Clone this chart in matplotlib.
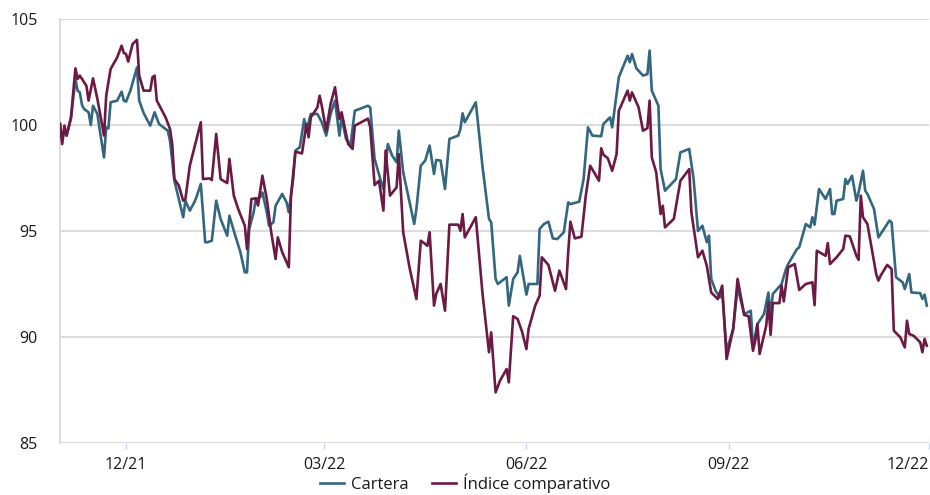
import matplotlib
matplotlib.use("Agg")
import matplotlib.pyplot as plt
import pandas as pd

plt.rcParams['font.family'] = ['Open Sans', 'DejaVu Sans']

# ---------------- data ----------------
c_dates = [
    "2021-11-01", "2021-11-02", "2021-11-03", "2021-11-04", "2021-11-06", "2021-11-08", "2021-11-09",
    "2021-11-10", "2021-11-11", "2021-11-12", "2021-11-14", "2021-11-15", "2021-11-16", "2021-11-18",
    "2021-11-19", "2021-11-21", "2021-11-22", "2021-11-23", "2021-11-24", "2021-11-27", "2021-11-29",
    "2021-11-30", "2021-12-01", "2021-12-03", "2021-12-06", "2021-12-07", "2021-12-09", "2021-12-12",
    "2021-12-14", "2021-12-16", "2021-12-19", "2021-12-20", "2021-12-21", "2021-12-23", "2021-12-27",
    "2021-12-28", "2021-12-30", "2022-01-01", "2022-01-02", "2022-01-04", "2022-01-06", "2022-01-07",
    "2022-01-09", "2022-01-11", "2022-01-13", "2022-01-16", "2022-01-17", "2022-01-19", "2022-01-22",
    "2022-01-24", "2022-01-25", "2022-01-26", "2022-01-28", "2022-01-29", "2022-01-31", "2022-02-01",
    "2022-02-03", "2022-02-04", "2022-02-06", "2022-02-07", "2022-02-10", "2022-02-12", "2022-02-13",
    "2022-02-15", "2022-02-16", "2022-02-18", "2022-02-20", "2022-02-21", "2022-02-23", "2022-02-26",
    "2022-02-28", "2022-03-02", "2022-03-04", "2022-03-06", "2022-03-08", "2022-03-09", "2022-03-11",
    "2022-03-13", "2022-03-15", "2022-03-21", "2022-03-22", "2022-03-24", "2022-03-27", "2022-03-28",
    "2022-03-30", "2022-04-01", "2022-04-03", "2022-04-04", "2022-04-06", "2022-04-11", "2022-04-12",
    "2022-04-14", "2022-04-16", "2022-04-18", "2022-04-20", "2022-04-21", "2022-04-23", "2022-04-25",
    "2022-04-27", "2022-05-01", "2022-05-02", "2022-05-03", "2022-05-04", "2022-05-09", "2022-05-12",
    "2022-05-15", "2022-05-16", "2022-05-18", "2022-05-19", "2022-05-23", "2022-05-24", "2022-05-26",
    "2022-05-28", "2022-05-29", "2022-06-01", "2022-06-02", "2022-06-06", "2022-06-07", "2022-06-09",
    "2022-06-11", "2022-06-13", "2022-06-15", "2022-06-18", "2022-06-20", "2022-06-21", "2022-06-25",
    "2022-06-27", "2022-06-29", "2022-07-01", "2022-07-05", "2022-07-06", "2022-07-09", "2022-07-10",
    "2022-07-13", "2022-07-17", "2022-07-18", "2022-07-19", "2022-07-21", "2022-07-24", "2022-07-26",
    "2022-07-27", "2022-07-28", "2022-07-31", "2022-08-01", "2022-08-03", "2022-08-08", "2022-08-10",
    "2022-08-14", "2022-08-16", "2022-08-18", "2022-08-20", "2022-08-22", "2022-08-23", "2022-08-24",
    "2022-08-26", "2022-08-28", "2022-08-29", "2022-08-31", "2022-09-03", "2022-09-05", "2022-09-08",
    "2022-09-11", "2022-09-12", "2022-09-14", "2022-09-17", "2022-09-19", "2022-09-20", "2022-09-21",
    "2022-09-25", "2022-09-27", "2022-09-28", "2022-10-02", "2022-10-03", "2022-10-06", "2022-10-08",
    "2022-10-09", "2022-10-10", "2022-10-12", "2022-10-15", "2022-10-17", "2022-10-18", "2022-10-19",
    "2022-10-20", "2022-10-23", "2022-10-24", "2022-10-25", "2022-10-27", "2022-10-29", "2022-10-30",
    "2022-11-01", "2022-11-02", "2022-11-03", "2022-11-06", "2022-11-08", "2022-11-10", "2022-11-13",
    "2022-11-14", "2022-11-16", "2022-11-19", "2022-11-20", "2022-11-22", "2022-11-23", "2022-11-27",
    "2022-11-28", "2022-11-29", "2022-11-30",
]
cartera = [
    100.05, 99.26, 99.81, 99.50, 100.32, 102.17, 101.62,
    101.54, 100.94, 100.75, 100.60, 100.00, 100.91, 100.52,
    99.81, 98.47, 99.89, 99.84, 101.07, 101.15, 101.57,
    101.15, 101.10, 101.62, 102.72, 101.15, 100.57, 99.97,
    100.60, 100.05, 99.81, 99.73, 99.26, 97.37, 95.65,
    96.43, 95.96, 96.35, 96.59, 97.22, 94.47, 94.47,
    94.54, 96.43, 95.57, 94.78, 95.72, 95.01, 94.00,
    93.05, 93.05, 95.09, 95.88, 96.51, 96.59, 96.82,
    95.88, 95.25, 95.41, 96.19, 96.75, 96.35, 95.88,
    97.45, 98.79, 98.95, 100.28, 99.73, 100.52, 100.52,
    100.13, 99.50, 100.52, 101.15, 99.50, 100.36, 99.34,
    99.03, 100.67, 100.91, 100.83, 98.40, 97.30, 96.98,
    99.10, 98.55, 98.24, 99.73, 97.77, 95.33, 96.04,
    98.08, 98.32, 99.03, 97.69, 98.35, 98.32, 96.98,
    99.34, 99.50, 99.81, 100.55, 100.13, 101.07, 98.08,
    95.57, 95.41, 92.74, 92.50, 92.82, 91.48, 92.74,
    93.05, 93.83, 92.00, 92.50, 92.50, 95.09, 95.33,
    95.44, 94.65, 94.62, 94.94, 96.35, 96.27, 96.38,
    97.45, 99.89, 99.50, 99.47, 100.05, 100.36, 99.89,
    102.25, 103.27, 102.96, 103.35, 102.67, 102.33, 102.40,
    103.51, 101.62, 100.91, 97.92, 96.90, 97.45, 98.71,
    98.87, 97.45, 95.00, 95.25, 94.47, 94.78, 92.74,
    92.18, 91.87, 92.10, 89.35, 90.38, 92.34, 91.08,
    91.24, 89.51, 90.61, 91.08, 92.10, 91.00, 92.03,
    92.50, 93.21, 93.44, 94.15, 94.23, 95.33, 95.17,
    95.65, 95.30, 96.98, 96.51, 96.98, 95.80, 95.80,
    96.43, 96.51, 97.45, 97.22, 97.61, 96.43, 96.82,
    97.84, 96.90, 96.75, 96.04, 94.70, 95.01, 95.49,
    95.41, 92.82, 92.58, 92.26, 92.97, 92.10, 92.07,
    91.80, 92.00, 91.48,
]

i_dates = [
    "2021-11-01", "2021-11-02", "2021-11-03", "2021-11-04", "2021-11-06", "2021-11-08", "2021-11-09",
    "2021-11-10", "2021-11-13", "2021-11-14", "2021-11-16", "2021-11-18", "2021-11-21", "2021-11-22",
    "2021-11-24", "2021-11-27", "2021-11-29", "2021-11-30", "2021-12-01", "2021-12-02", "2021-12-04",
    "2021-12-06", "2021-12-07", "2021-12-09", "2021-12-12", "2021-12-13", "2021-12-14", "2021-12-15",
    "2021-12-19", "2021-12-21", "2021-12-22", "2021-12-23", "2021-12-25", "2021-12-27", "2021-12-28",
    "2021-12-30", "2022-01-04", "2022-01-05", "2022-01-08", "2022-01-09", "2022-01-11", "2022-01-13",
    "2022-01-16", "2022-01-17", "2022-01-19", "2022-01-21", "2022-01-24", "2022-01-25", "2022-01-27",
    "2022-01-29", "2022-01-30", "2022-02-01", "2022-02-03", "2022-02-05", "2022-02-07", "2022-02-08",
    "2022-02-10", "2022-02-13", "2022-02-14", "2022-02-16", "2022-02-19", "2022-02-21", "2022-02-22",
    "2022-02-23", "2022-02-26", "2022-02-27", "2022-02-28", "2022-03-02", "2022-03-04", "2022-03-06",
    "2022-03-08", "2022-03-09", "2022-03-12", "2022-03-14", "2022-03-15", "2022-03-21", "2022-03-22",
    "2022-03-24", "2022-03-26", "2022-03-28", "2022-03-29", "2022-03-31", "2022-04-03", "2022-04-04",
    "2022-04-06", "2022-04-09", "2022-04-12", "2022-04-14", "2022-04-16", "2022-04-17", "2022-04-18",
    "2022-04-20", "2022-04-21", "2022-04-23", "2022-04-25", "2022-04-27", "2022-05-01", "2022-05-02",
    "2022-05-03", "2022-05-04", "2022-05-09", "2022-05-12", "2022-05-15", "2022-05-16", "2022-05-18",
    "2022-05-20", "2022-05-23", "2022-05-24", "2022-05-26", "2022-05-28", "2022-05-30", "2022-06-01",
    "2022-06-02", "2022-06-05", "2022-06-07", "2022-06-08", "2022-06-11", "2022-06-14", "2022-06-16",
    "2022-06-19", "2022-06-20", "2022-06-21", "2022-06-23", "2022-06-26", "2022-06-28", "2022-06-30",
    "2022-07-04", "2022-07-05", "2022-07-06", "2022-07-08", "2022-07-10", "2022-07-12", "2022-07-13",
    "2022-07-17", "2022-07-18", "2022-07-19", "2022-07-22", "2022-07-24", "2022-07-26", "2022-07-27",
    "2022-07-28", "2022-07-30", "2022-08-01", "2022-08-02", "2022-08-03", "2022-08-07", "2022-08-10",
    "2022-08-14", "2022-08-15", "2022-08-18", "2022-08-20", "2022-08-22", "2022-08-24", "2022-08-27",
    "2022-08-29", "2022-08-31", "2022-09-03", "2022-09-05", "2022-09-08", "2022-09-10", "2022-09-12",
    "2022-09-13", "2022-09-14", "2022-09-15", "2022-09-18", "2022-09-19", "2022-09-20", "2022-09-21",
    "2022-09-24", "2022-09-25", "2022-09-26", "2022-09-28", "2022-10-01", "2022-10-03", "2022-10-06",
    "2022-10-09", "2022-10-10", "2022-10-11", "2022-10-15", "2022-10-16", "2022-10-17", "2022-10-20",
    "2022-10-23", "2022-10-24", "2022-10-26", "2022-10-29", "2022-10-30", "2022-10-31", "2022-11-01",
    "2022-11-03", "2022-11-05", "2022-11-07", "2022-11-08", "2022-11-09", "2022-11-12", "2022-11-14",
    "2022-11-15", "2022-11-18", "2022-11-20", "2022-11-21", "2022-11-22", "2022-11-24", "2022-11-27",
    "2022-11-28", "2022-11-29", "2022-11-30",
]
indice = [
    100.05, 99.10, 99.97, 99.50, 100.36, 102.67, 102.17,
    102.33, 101.85, 101.15, 102.20, 101.23, 99.50, 101.38,
    102.64, 103.19, 103.74, 103.40, 103.35, 102.99, 103.82,
    104.02, 102.33, 101.62, 101.62, 102.25, 102.33, 101.15,
    100.36, 99.81, 99.10, 97.45, 97.14, 96.43, 96.51,
    98.08, 100.13, 97.45, 97.48, 97.40, 99.58, 97.45,
    97.26, 98.40, 96.67, 96.04, 95.25, 94.15, 96.51,
    96.54, 96.20, 97.61, 96.51, 94.94, 93.68, 94.70,
    94.00, 93.29, 96.67, 98.74, 98.66, 100.05, 99.42,
    100.36, 100.83, 101.38, 100.90, 99.73, 100.99, 101.78,
    100.28, 100.60, 99.10, 98.87, 99.97, 100.30, 99.90,
    97.17, 97.37, 95.96, 98.79, 96.67, 97.06, 98.63,
    94.94, 93.21, 91.79, 94.54, 94.39, 94.30, 94.94,
    91.48, 92.03, 92.50, 91.24, 95.30, 95.30, 95.01,
    95.80, 94.70, 95.65, 92.10, 89.28, 90.22, 87.39,
    87.94, 88.49, 87.86, 90.98, 90.85, 90.26, 89.43,
    90.38, 91.48, 91.95, 93.76, 93.40, 92.18, 93.13,
    92.26, 93.99, 95.44, 94.65, 94.73, 96.67, 98.08,
    97.37, 98.90, 98.60, 98.43, 97.84, 98.63, 100.67,
    101.62, 101.15, 101.54, 100.83, 99.73, 99.85, 101.15,
    98.47, 97.77, 95.80, 96.19, 95.17, 95.57, 97.37,
    97.92, 95.88, 93.76, 94.07, 93.36, 92.10, 91.79,
    92.42, 88.96, 90.38, 92.74, 91.04, 90.98, 89.35,
    89.80, 90.61, 89.20, 90.53, 91.64, 90.10, 91.60,
    91.60, 92.42, 91.68, 93.29, 93.44, 92.22, 92.50,
    92.58, 91.50, 94.07, 93.83, 94.43, 93.44, 93.76,
    94.15, 94.78, 94.75, 93.83, 93.64, 96.67, 95.65,
    95.33, 94.15, 92.97, 92.66, 92.89, 93.40, 93.21,
    90.30, 89.98, 89.51, 90.77, 90.14, 90.06, 89.75,
    89.28, 89.91, 89.59,
]

series_labels = ["Cartera", "Índice comparativo"]
series_colors = ["#33667f", "#6c1943"]
y_ticks = [85, 90, 95, 100, 105]
x_tick_dates = ["2021-12-01", "2022-03-01", "2022-06-01", "2022-09-01", "2022-12-01"]
x_tick_labels = ["12/21", "03/22", "06/22", "09/22", "12/22"]
x_start, x_end = "2021-11-01", "2022-12-01"

# ---------------- figure ----------------
W, H = 930, 495
fig = plt.figure(figsize=(W / 100, H / 100), dpi=100)
ax = fig.add_axes([60 / W, 1 - 443 / H, (929 - 60) / W, (443 - 19) / H])

ax.plot(pd.to_datetime(c_dates), cartera, color=series_colors[0], lw=1.9,
        label=series_labels[0], solid_joinstyle='round', zorder=3)
ax.plot(pd.to_datetime(i_dates), indice, color=series_colors[1], lw=1.9,
        label=series_labels[1], solid_joinstyle='round', zorder=4)

ax.set_ylim(85, 105)
ax.set_yticks(y_ticks)
ax.set_xlim(pd.Timestamp(x_start), pd.Timestamp(x_end))
ax.set_xticks(pd.to_datetime(x_tick_dates))
ax.set_xticklabels(x_tick_labels)
ax.get_xticklabels()[-1].set_horizontalalignment('right')

ax.grid(axis='y', color='#d9d9d9', lw=1.3, zorder=0)
ax.set_axisbelow(True)
for s in ['top', 'right', 'bottom']:
    ax.spines[s].set_visible(False)
ax.spines['left'].set_color('#d9d9d9')
ax.spines['left'].set_linewidth(1.3)

ax.tick_params(axis='y', length=0, pad=16, labelsize=11.5, labelcolor='#1a1a1a')
ax.tick_params(axis='x', length=4, width=1, color='#c9d5e8', pad=6,
               labelsize=11.5, labelcolor='#1a1a1a')

fig.legend(loc='center', bbox_to_anchor=(0.5, 0.024), ncol=2, frameon=False,
           fontsize=12, handlelength=1.45, handletextpad=0.4, columnspacing=1.4,
           labelcolor='#1a1a1a', borderpad=0.1)

fig.savefig("out.png", dpi=100)
